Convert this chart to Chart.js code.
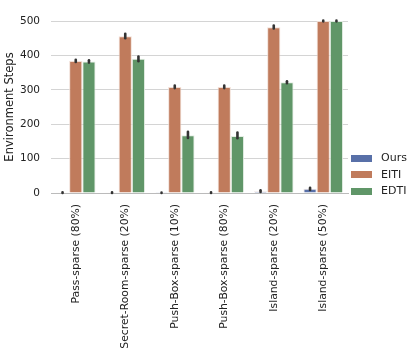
<!DOCTYPE html>
<html>
<head>
<meta charset="utf-8">
<script src="https://cdn.jsdelivr.net/npm/chart.js@4.4.0/dist/chart.umd.min.js"></script>
<style>
    body { margin: 0; background: #fff; }
    #wrap { position: relative; width: 416px; height: 352px; }
    #legend { position: absolute; left: 351px; top: 150px; font-family: "DejaVu Sans", sans-serif; font-size: 11px; color: #222; }
    #legend div { height: 16.5px; line-height: 16.5px; white-space: nowrap; }
    #legend span { display: inline-block; width: 21px; height: 7px; margin-right: 9px; vertical-align: middle; }
</style>
</head>
<body>
<div id="wrap">
    <canvas id="chart" width="416" height="352"></canvas>
    <div id="legend"></div>
</div>
<script>
const categories = ['Pass-sparse (80%)', 'Secret-Room-sparse (20%)', 'Push-Box-sparse (10%)', 'Push-Box-sparse (80%)', 'Island-sparse (20%)', 'Island-sparse (50%)'];
const seriesNames = ['Ours', 'EITI', 'EDTI'];
const oursSteps = [1, 1, 0.5, 1, 5, 12];
const eitiSteps = [384, 456, 308, 308, 482, 500];
const edtiSteps = [382, 390, 168, 166, 322, 500];
// error bar ranges (low / high)
const oursLow = [0, 0, 0, 0, 3, 9];
const oursHigh = [2, 2, 1, 2, 8, 15];
const eitiLow = [381, 450, 305, 305, 478, 499];
const eitiHigh = [387, 463, 312, 312, 487, 501];
const edtiLow = [379, 383, 160, 159, 319, 499];
const edtiHigh = [386, 397, 178, 176, 325, 501];
const yTicks = [0, 100, 200, 300, 400, 500];

const colors = ['rgb(88,112,168)', 'rgb(192,123,92)', 'rgb(96,150,104)'];
const edges = ['rgba(235,225,225,0.9)', 'rgba(240,220,210,0.9)', 'rgba(225,235,225,0.9)'];
const values = [oursSteps, eitiSteps, edtiSteps];
const lows = [oursLow, eitiLow, edtiLow];
const highs = [oursHigh, eitiHigh, edtiHigh];

// error bars drawn at bar positions from the scales
const errorBars = {
    id: 'errorBars',
    afterDatasetsDraw(chart) {
        const ctx = chart.ctx;
        const y = chart.scales.y;
        ctx.save();
        ctx.strokeStyle = '#333';
        ctx.lineWidth = 2.6;
        ctx.lineCap = 'round';
        chart.data.datasets.forEach((ds, i) => {
            chart.getDatasetMeta(i).data.forEach((bar, j) => {
                ctx.beginPath();
                ctx.moveTo(bar.x, y.getPixelForValue(lows[i][j]));
                ctx.lineTo(bar.x, y.getPixelForValue(highs[i][j]));
                ctx.stroke();
            });
        });
        ctx.restore();
    }
};

Chart.defaults.font.family = '"DejaVu Sans", sans-serif';
Chart.defaults.color = '#222';

const chart = new Chart(document.getElementById('chart'), {
    type: 'bar',
    data: {
        labels: categories,
        datasets: seriesNames.map((name, i) => ({
            label: name,
            data: values[i],
            backgroundColor: colors[i],
            borderColor: edges[i],
            borderWidth: 1,
            categoryPercentage: 0.8,
            barPercentage: 1.0
        }))
    },
    options: {
        responsive: false,
        animation: false,
        layout: { padding: { top: 21, right: 68, left: 0, bottom: 0 } },
        plugins: {
            legend: { display: false },
            tooltip: { enabled: false }
        },
        scales: {
            x: {
                grid: { display: false },
                border: { display: true, color: '#bbb', width: 1 },
                ticks: { maxRotation: 90, minRotation: 90, font: { size: 10.8 }, padding: 3 },
                afterFit: (s) => { s.height = 159; }
            },
            y: {
                min: 0,
                max: 500,
                afterBuildTicks: (s) => { s.ticks = yTicks.map(v => ({ value: v })); },
                grid: { color: '#d4d4d4', lineWidth: 1, drawTicks: false },
                border: { display: false },
                ticks: { font: { size: 10.5 }, padding: 11 },
                title: { display: true, text: 'Environment Steps', font: { size: 11.5 }, padding: { top: 3, bottom: 0 } },
                afterFit: (s) => { s.width = 51; }
            }
        }
    },
    plugins: [errorBars]
});

// legend
const legend = document.getElementById('legend');
seriesNames.forEach((name, i) => {
    const row = document.createElement('div');
    row.innerHTML = `<span style="background:${colors[i]}"></span>${name}`;
    legend.appendChild(row);
});
</script>
</body>
</html>
